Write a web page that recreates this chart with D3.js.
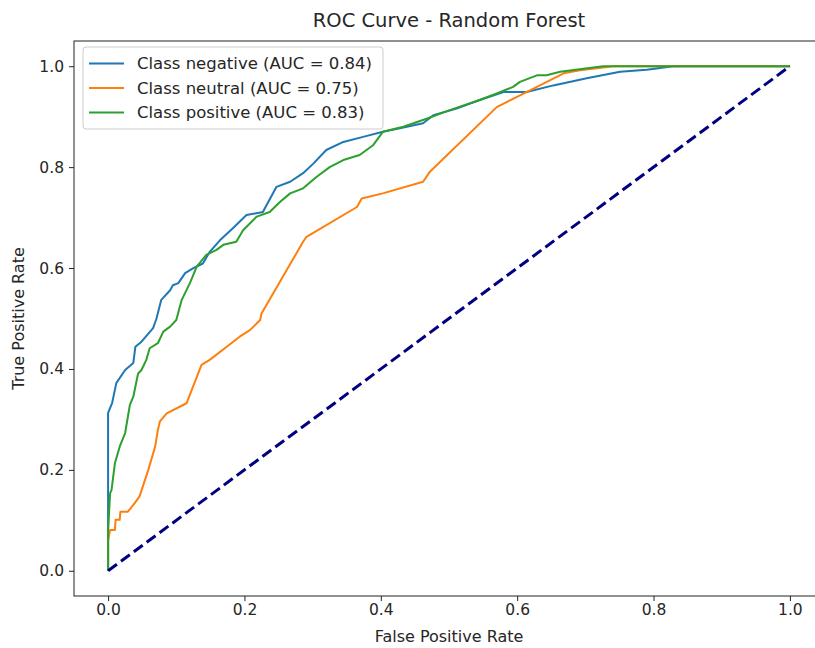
<!DOCTYPE html>
<html lang="en">
  <head>
    <meta charset="utf-8">
    <title>ROC Curve - Random Forest</title>
    <script src="https://d3js.org/d3.v7.min.js"></script>
    <style>
      body { margin: 0; background: #fff; }
      svg text { font-family: "DejaVu Sans", sans-serif; fill: #262626; }
    </style>
  </head>
  <body>
    <div id="chart"></div>
    <script>
      // ROC points
      let classNames = ["negative", "neutral", "positive"];
      let aucValues = [0.84, 0.75, 0.83];
      let lineColors = ["#1f77b4", "#ff7f0e", "#2ca02c"];

      let fprNegative = [0, 0, 0.006, 0.012, 0.025, 0.037, 0.040, 0.049, 0.066, 0.071,
        0.078, 0.091, 0.095, 0.103, 0.113, 0.125, 0.139, 0.149, 0.164, 0.183,
        0.203, 0.227, 0.247, 0.267, 0.286, 0.301, 0.320, 0.345, 0.374, 0.403,
        0.428, 0.462, 0.477, 0.511, 0.545, 0.580, 0.614, 0.653, 0.702, 0.751,
        0.790, 0.829, 1.0];
      let tprNegative = [0, 0.313, 0.333, 0.372, 0.398, 0.412, 0.444, 0.454, 0.481, 0.500,
        0.537, 0.556, 0.566, 0.570, 0.590, 0.600, 0.609, 0.632, 0.655, 0.679,
        0.705, 0.711, 0.761, 0.771, 0.788, 0.807, 0.834, 0.850, 0.860, 0.870,
        0.877, 0.887, 0.903, 0.916, 0.933, 0.949, 0.949, 0.962, 0.976, 0.989,
        0.993, 1.0, 1.0];

      let fprNeutral = [0, 0, 0.003, 0.010, 0.011, 0.017, 0.018, 0.029, 0.039, 0.046,
        0.059, 0.069, 0.073, 0.076, 0.086, 0.115, 0.137, 0.149, 0.174, 0.193,
        0.208, 0.223, 0.225, 0.286, 0.291, 0.365, 0.372, 0.403, 0.462, 0.472,
        0.570, 0.629, 0.668, 0.692, 0.741, 1.0];
      let tprNeutral = [0, 0.06, 0.081, 0.081, 0.101, 0.101, 0.117, 0.117, 0.134, 0.147,
        0.200, 0.246, 0.279, 0.296, 0.312, 0.332, 0.408, 0.418, 0.444, 0.464,
        0.477, 0.497, 0.510, 0.652, 0.662, 0.721, 0.738, 0.748, 0.771, 0.791,
        0.919, 0.959, 0.986, 0.992, 1.0, 1.0];

      let fprPositive = [0, 0, 0.003, 0.005, 0.010, 0.017, 0.025, 0.032, 0.037, 0.044,
        0.049, 0.056, 0.061, 0.073, 0.081, 0.091, 0.100, 0.108, 0.120, 0.130,
        0.144, 0.159, 0.169, 0.188, 0.198, 0.218, 0.237, 0.252, 0.267, 0.286,
        0.306, 0.325, 0.345, 0.369, 0.389, 0.403, 0.433, 0.467, 0.501, 0.545,
        0.570, 0.594, 0.604, 0.629, 0.643, 0.663, 0.726, 1.0];
      let tprPositive = [0, 0.08, 0.154, 0.160, 0.213, 0.246, 0.273, 0.329, 0.345, 0.391,
        0.398, 0.418, 0.441, 0.451, 0.474, 0.484, 0.497, 0.537, 0.570, 0.603,
        0.626, 0.636, 0.646, 0.652, 0.675, 0.702, 0.711, 0.731, 0.748, 0.758,
        0.781, 0.800, 0.814, 0.824, 0.844, 0.870, 0.880, 0.896, 0.913, 0.933,
        0.946, 0.959, 0.969, 0.982, 0.982, 0.989, 1.0, 1.0];

      let tickValues = [0, 0.2, 0.4, 0.6, 0.8, 1.0];
      let chanceX = [0, 1];
      let chanceY = [0, 1];

      let curves = [
        { fpr: fprNegative, tpr: tprNegative },
        { fpr: fprNeutral, tpr: tprNeutral },
        { fpr: fprPositive, tpr: tprPositive }
      ];

      let w = 815;
      let h = 648;
      // axes box (right spine falls just outside the picture)
      let axLeft = 74, axTop = 41, axRight = 824, axBottom = 596;

      let svg = d3.select("#chart").append("svg")
                  .attr("width", w)
                  .attr("height", h);

      let x = d3.scaleLinear().domain([-0.05, 1.05]).range([axLeft, axRight]);
      let y = d3.scaleLinear().domain([-0.05, 1.05]).range([axBottom, axTop]);

      let line = d3.line()
                   .x(d => x(d[0]))
                   .y(d => y(d[1]));

      // curves
      svg.selectAll("path.roc")
         .data(curves)
         .enter()
         .append("path")
         .attr("class", "roc")
         .attr("d", d => line(d3.zip(d.fpr, d.tpr)))
         .attr("fill", "none")
         .attr("stroke", (d, i) => lineColors[i])
         .attr("stroke-width", 2)
         .attr("stroke-linejoin", "round");

      // chance line
      svg.append("path")
         .attr("d", line(d3.zip(chanceX, chanceY)))
         .attr("fill", "none")
         .attr("stroke", "navy")
         .attr("stroke-width", 3)
         .attr("stroke-dasharray", "11,5");

      // axes
      let xAxis = d3.axisBottom(x).tickValues(tickValues).tickFormat(d3.format(".1f"))
                    .tickSizeInner(5).tickSizeOuter(0).tickPadding(3);
      let yAxis = d3.axisLeft(y).tickValues(tickValues).tickFormat(d3.format(".1f"))
                    .tickSizeInner(5).tickSizeOuter(0).tickPadding(5);

      let gx = svg.append("g").attr("transform", "translate(0," + axBottom + ")").call(xAxis);
      let gy = svg.append("g").attr("transform", "translate(" + axLeft + ",0)").call(yAxis);
      [gx, gy].forEach(g => {
        g.select(".domain").remove();
        g.selectAll("line").attr("stroke", "#222").attr("stroke-width", 1);
        g.selectAll("text").attr("font-size", "15.5px").attr("font-family", "DejaVu Sans").attr("fill", "#262626");
      });

      // spines
      svg.append("rect")
         .attr("x", axLeft).attr("y", axTop)
         .attr("width", axRight - axLeft).attr("height", axBottom - axTop)
         .attr("fill", "none")
         .attr("stroke", "#222")
         .attr("stroke-width", 1);

      // title and labels
      svg.append("text")
         .attr("x", (axLeft + axRight) / 2).attr("y", 27)
         .attr("text-anchor", "middle")
         .attr("font-size", "19.5px")
         .text("ROC Curve - Random Forest");

      svg.append("text")
         .attr("x", (axLeft + axRight) / 2).attr("y", 642)
         .attr("text-anchor", "middle")
         .attr("font-size", "16px")
         .text("False Positive Rate");

      svg.append("text")
         .attr("transform", "translate(24," + (axTop + axBottom) / 2 + ") rotate(-90)")
         .attr("text-anchor", "middle")
         .attr("font-size", "16px")
         .text("True Positive Rate");

      // legend
      let legend = svg.append("g");
      legend.append("rect")
            .attr("x", 83).attr("y", 47)
            .attr("width", 300).attr("height", 82)
            .attr("rx", 3)
            .attr("fill", "white").attr("fill-opacity", 0.8)
            .attr("stroke", "#ccc");

      let rows = legend.selectAll("g.row")
                       .data(classNames)
                       .enter()
                       .append("g")
                       .attr("class", "row")
                       .attr("transform", (d, i) => "translate(0," + (63.5 + i * 24.5) + ")");
      rows.append("line")
          .attr("x1", 89).attr("x2", 124)
          .attr("stroke", (d, i) => lineColors[i])
          .attr("stroke-width", 2);
      rows.append("text")
          .attr("x", 137).attr("dy", "0.35em")
          .attr("font-size", "16.5px")
          .text((d, i) => "Class " + d + " (AUC = " + aucValues[i].toFixed(2) + ")");
    </script>
  </body>
</html>
